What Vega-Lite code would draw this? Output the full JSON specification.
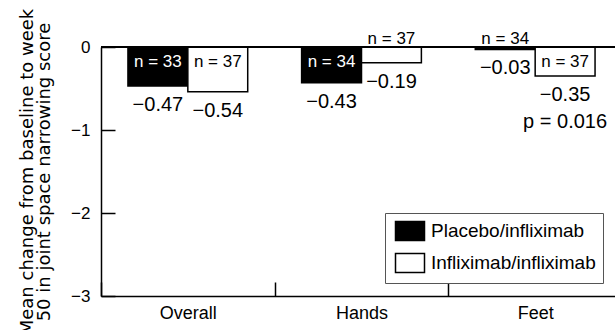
{
  "$schema": "https://vega.github.io/schema/vega-lite/v6.json",
  "width": 521,
  "height": 249,
  "autosize": {"type": "none"},
  "padding": {"left": 101, "top": 47, "right": -7, "bottom": 34},
  "background": "white",
  "config": {
    "font": "Liberation Sans",
    "view": {"stroke": null},
    "axis": {"domainColor": "black", "tickColor": "black", "labelColor": "black", "titleColor": "black", "grid": false, "domainWidth": 1.5, "tickWidth": 1.5}
  },
  "datasets": {
    "bars": [
      {"cat": "Overall", "grp": "Placebo/infliximab", "value": -0.47, "nlabel": "n = 33"},
      {"cat": "Overall", "grp": "Infliximab/infliximab", "value": -0.54, "nlabel": "n = 37"},
      {"cat": "Hands", "grp": "Placebo/infliximab", "value": -0.43, "nlabel": "n = 34"},
      {"cat": "Hands", "grp": "Infliximab/infliximab", "value": -0.19, "nlabel": "n = 37"},
      {"cat": "Feet", "grp": "Placebo/infliximab", "value": -0.03, "nlabel": "n = 34"},
      {"cat": "Feet", "grp": "Infliximab/infliximab", "value": -0.35, "nlabel": "n = 37"}
    ]
  },
  "data": {"name": "bars"},
  "layer": [
    {
      "mark": {"type": "bar", "stroke": "black", "strokeWidth": 1.5},
      "encoding": {
        "x": {"field": "cat", "type": "nominal", "sort": ["Overall", "Hands", "Feet"], "scale": {"paddingInner": 0, "paddingOuter": 0},
          "axis": {"title": null, "labelAngle": 0, "tickBand": "extent", "tickSize": -14, "labelPadding": 22, "labelFontSize": 18}},
        "xOffset": {"field": "grp", "type": "nominal", "sort": ["Placebo/infliximab", "Infliximab/infliximab"], "scale": {"paddingInner": 0, "paddingOuter": 0.45}},
        "y": {"field": "value", "type": "quantitative", "scale": {"domain": [-3, 0], "nice": false},
          "axis": {"values": [-3, -2, -1, 0], "format": "d", "tickSize": -14, "labelPadding": 25, "labelFontSize": 17,
            "titleFont": "DejaVu Sans", "titleFontSize": 18, "titleFontWeight": "normal", "titleLineHeight": 17, "titlePadding": 17,
            "title": ["Mean change from baseline to week", "50 in joint space narrowing score"]}},
        "fill": {"field": "grp", "type": "nominal", "sort": ["Placebo/infliximab", "Infliximab/infliximab"], "scale": {"range": ["black", "white"]},
          "legend": {"title": null, "orient": "none", "legendX": 284, "legendY": 166, "strokeColor": "#555", "fillColor": "white", "padding": 7,
            "symbolType": "M-1.45,-0.95H1.45V0.95H-1.45Z", "symbolSize": 400, "symbolStrokeColor": "black", "symbolStrokeWidth": 1.5, "symbolOpacity": 1,
            "labelFontSize": 19, "labelColor": "black", "labelLimit": 400, "rowPadding": 6, "symbolOffset": 7, "labelOffset": 10}}
      }
    },
    {
      "mark": {"type": "rule", "color": "black", "strokeWidth": 1.5},
      "encoding": {"y": {"datum": 0}}
    },
    {
      "mark": {"type": "text", "fontSize": 20, "baseline": "alphabetic", "align": "center", "dy": 25, "color": "black"},
      "encoding": {
        "x": {"field": "cat", "type": "nominal", "sort": ["Overall", "Hands", "Feet"]},
        "xOffset": {"field": "grp", "type": "nominal", "sort": ["Placebo/infliximab", "Infliximab/infliximab"]},
        "y": {"field": "value", "type": "quantitative"},
        "text": {"field": "value", "type": "quantitative", "format": ".2f"}
      }
    },
    {
      "transform": [{"filter": "datum.value <= -0.3"}],
      "mark": {"type": "text", "fontSize": 17, "baseline": "alphabetic", "align": "center", "dy": 20},
      "encoding": {
        "x": {"field": "cat", "type": "nominal", "sort": ["Overall", "Hands", "Feet"]},
        "xOffset": {"field": "grp", "type": "nominal", "sort": ["Placebo/infliximab", "Infliximab/infliximab"]},
        "y": {"datum": 0},
        "text": {"field": "nlabel"},
        "color": {"condition": {"test": "datum.grp === 'Placebo/infliximab'", "value": "white"}, "value": "black"}
      }
    },
    {
      "transform": [{"filter": "datum.value > -0.3"}],
      "mark": {"type": "text", "fontSize": 17, "baseline": "alphabetic", "align": "center", "dy": -3, "color": "black"},
      "encoding": {
        "x": {"field": "cat", "type": "nominal", "sort": ["Overall", "Hands", "Feet"]},
        "xOffset": {"field": "grp", "type": "nominal", "sort": ["Placebo/infliximab", "Infliximab/infliximab"]},
        "y": {"datum": 0},
        "text": {"field": "nlabel"}
      }
    },
    {
      "data": {"values": [{"p": "p = 0.016"}]},
      "mark": {"type": "text", "fontSize": 20, "baseline": "alphabetic", "align": "center", "color": "black"},
      "encoding": {
        "x": {"datum": "Feet"},
        "xOffset": {"datum": "Infliximab/infliximab"},
        "y": {"datum": -0.98},
        "text": {"field": "p"}
      }
    }
  ]
}
